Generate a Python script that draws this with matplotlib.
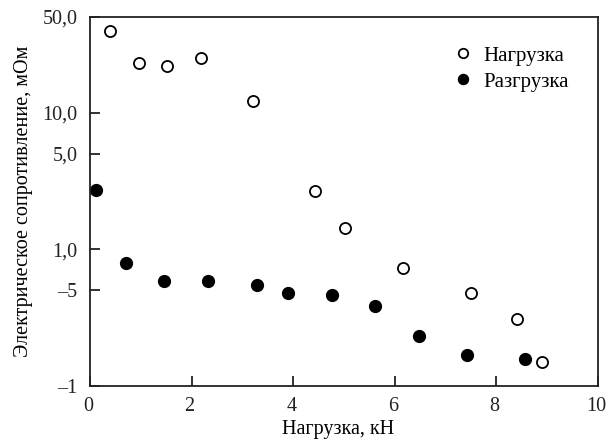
import matplotlib
matplotlib.use("Agg")
import matplotlib.pyplot as plt
import matplotlib.transforms as mtransforms
from matplotlib.ticker import FixedLocator, FixedFormatter, NullLocator

plt.rcParams['font.family'] = ['Liberation Serif', 'DejaVu Serif']

# Нагрузка (open circles)
load_x = [0.39, 0.96, 1.51, 2.18, 3.21, 4.43, 5.02, 6.16, 7.50, 8.41, 8.90]
load_y = [39.2, 23.2, 21.9, 25.0, 12.2, 2.67, 1.43, 0.726, 0.481, 0.307, 0.150]

# Разгрузка (filled circles)
unload_x = [0.12, 0.70, 1.45, 2.33, 3.29, 3.90, 4.76, 5.62, 6.48, 7.42, 8.57]
unload_y = [2.70, 0.79, 0.583, 0.583, 0.548, 0.479, 0.461, 0.387, 0.231, 0.168, 0.157]

y_ticks = [50, 10, 5, 1, 0.5, 0.1]
y_labels = ["50,0", "10,0", "5,0", "1,0", "\u20135", "\u20131"]
x_ticks = [0, 2, 4, 6, 8, 10]

fig = plt.figure(figsize=(6.06, 4.44), dpi=100)
ax = fig.add_axes([0.1485, 0.1306, 0.8383, 0.8311])

ax.plot(load_x, load_y, 'o', ms=8, mfc='white', mec='black', mew=1.3, label="Нагрузка")
ax.plot(unload_x, unload_y, 'o', ms=8.5, mfc='black', mec='black', label="Разгрузка")

ax.set_yscale('log')
ax.set_ylim(0.1, 50)
ax.set_xlim(0, 10)
ax.yaxis.set_major_locator(FixedLocator(y_ticks))
ax.yaxis.set_major_formatter(FixedFormatter(y_labels))
ax.yaxis.set_minor_locator(NullLocator())
ax.set_xticks(x_ticks)

for s in ax.spines.values():
    s.set_linewidth(1.3)
    s.set_color('#222222')
ax.tick_params(direction='in', length=7, width=1.3, labelsize=14.5, colors='#222222')
ax.tick_params(axis='y', pad=9)
ax.tick_params(axis='x', pad=8)

# nudge x tick labels a little left so "10" fits
shift = mtransforms.ScaledTranslation(-2 / 100, 0, fig.dpi_scale_trans)
for lbl in ax.get_xticklabels():
    lbl.set_transform(lbl.get_transform() + shift)

ax.set_xlabel("Нагрузка, кН", fontsize=14.5, labelpad=3)
ax.xaxis.label.set_x(0.488)
ax.set_ylabel("Электрическое сопротивление, мОм", fontsize=14.5, labelpad=7)

ax.legend(loc='upper right', frameon=False, fontsize=15, handlelength=0.8,
          handletextpad=0.6, borderaxespad=1.0, labelspacing=0.3, markerscale=0.85)

fig.savefig("out.png", dpi=100)
